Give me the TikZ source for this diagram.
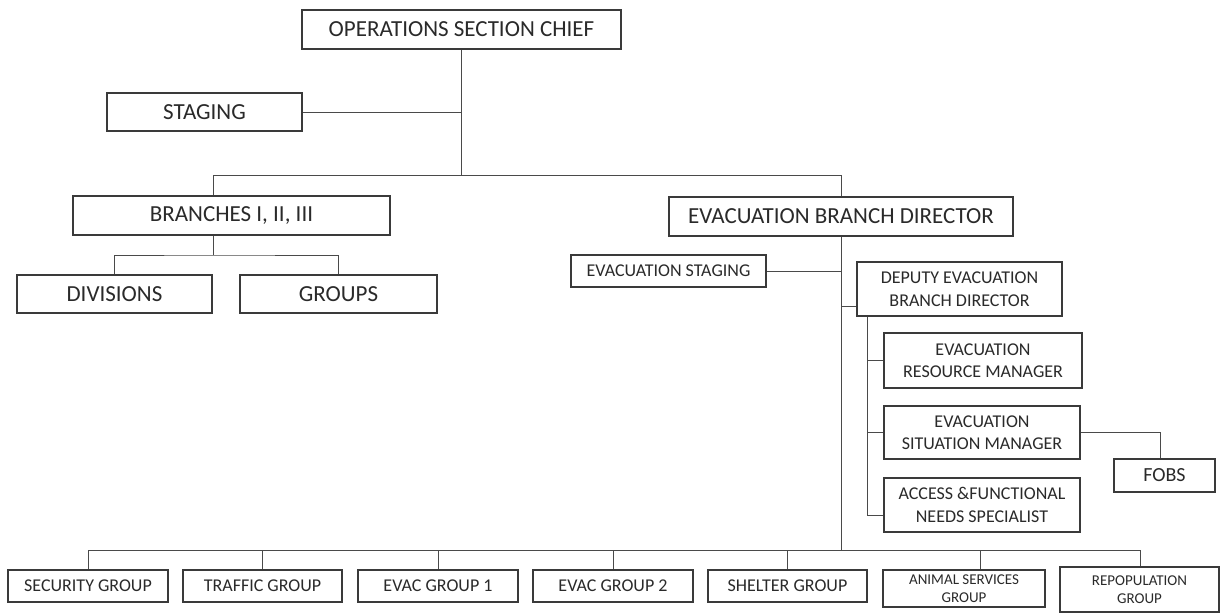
\documentclass[tikz,border=0pt]{standalone}
\usepackage{fontspec}
\setmainfont{Carlito}
\usetikzlibrary{calc}
\definecolor{boxc}{HTML}{3A3A3A}
\definecolor{linec}{HTML}{4A4A4A}
\definecolor{txtc}{HTML}{2A2A2A}
\begin{document}
\begin{tikzpicture}[x=1pt,y=-1pt,
  box/.style={draw=boxc, line width=1.1pt, fill=white, inner sep=0pt,
    align=center, text=txtc, font=\fontsize{18}{22.5}\selectfont},
  big/.style={font=\fontsize{23}{27}\selectfont},
  small/.style={font=\fontsize{15}{17.5}\selectfont},
  wh/.style 2 args={minimum width=#1pt, minimum height=#2pt},
  link/.style={draw=linec, line width=1pt}]
\useasboundingbox (0,0) rectangle (1222,613);

% top of the command structure
\node[box,big,wh={319}{39}] (osc) at (461.5,29.5) {OPERATIONS SECTION CHIEF};
\node[box,big,wh={195}{38}] (staging) at (204.5,112) {STAGING};
\node[box,big,wh={317}{39}] (branches) at (231.5,215.5) {BRANCHES I, II, III};
\node[box,big,wh={344}{39}] (ebd) at (841,216.5) {EVACUATION BRANCH DIRECTOR};
\node[box,big,wh={195}{38}] (divisions) at (114.5,294) {DIVISIONS};
\node[box,big,wh={197}{38}] (groups) at (338.5,294) {GROUPS};

% evacuation branch staff
\node[box,wh={195}{32}] (evstaging) at (668.5,271) {EVACUATION STAGING};
\node[box,wh={205}{54}] (deputy) at (959.5,289) {DEPUTY EVACUATION\\BRANCH DIRECTOR};
\node[box,wh={198}{55}] (erm) at (983,360.5) {EVACUATION\\RESOURCE MANAGER};
\node[box,wh={196}{53}] (esm) at (982,432.5) {EVACUATION\\SITUATION MANAGER};
\node[box,wh={196}{54}] (afns) at (982,505) {ACCESS \&FUNCTIONAL\\NEEDS SPECIALIST};
\node[box,wh={101}{33},font=\fontsize{20}{24}\selectfont] (fobs) at (1164.5,475.5) {FOBS};

% groups under the evacuation branch
\node[box,wh={160}{32}] (security) at (88,586) {SECURITY GROUP};
\node[box,wh={159}{32}] (traffic) at (262.5,586) {TRAFFIC GROUP};
\node[box,wh={160}{32}] (evac1) at (438,586) {EVAC GROUP 1};
\node[box,wh={160}{32}] (evac2) at (613,586) {EVAC GROUP 2};
\node[box,wh={159}{32}] (shelter) at (787.5,586) {SHELTER GROUP};
\node[box,small,wh={162}{37}] (animal) at (964,588.5) {ANIMAL SERVICES\\GROUP};
\node[box,small,wh={159}{45}] (repop) at (1139.5,589.5) {REPOPULATION\\GROUP};

% junction points
\coordinate (hub) at (461.5,175);
\coordinate (bJ) at (213,175);
\coordinate (eJ) at (841,175);
\coordinate (brJ) at (213,255);
\coordinate (dJ) at (841,306);
\coordinate (busL) at (88,550);
\coordinate (busR) at (1140,550);
\coordinate (anJ) at (980,550);
\path (deputy.south west) ++(11,0) coordinate (inTop);

% chief to staging and branches
\draw[link] (osc.south) -- (hub);
\draw[link] (staging.east) -- (staging.east -| osc.south);
\draw[link] (bJ) -- (eJ);
\draw[link] (bJ) -- (bJ |- branches.north);
\draw[link] (eJ) -- (ebd.north);

% branches to divisions and groups
\draw[link] (brJ |- branches.south) -- (brJ);
\draw[link] (divisions.north) |- (brJ) -| (groups.north);

% evacuation branch trunk
\draw[link] (ebd.south) -- (ebd.south |- busL);
\draw[link] (evstaging.east) -- (evstaging.east -| ebd.south);
\draw[link] (dJ) -- (dJ -| deputy.west);

% deputy staff
\draw[link] (inTop) |- ([yshift=-10pt]afns.west);
\draw[link] (erm.west -| inTop) -- (erm.west);
\draw[link] (esm.west -| inTop) -- (esm.west);
\draw[link] (esm.east) -| ([xshift=-4.5pt]fobs.north);

% bus to the groups
\draw[link] (busL) -- (busR);
\draw[link] (busL) -- (security.north);
\draw[link] (traffic.north |- busL) -- (traffic.north);
\draw[link] (evac1.north |- busL) -- (evac1.north);
\draw[link] (evac2.north |- busL) -- (evac2.north);
\draw[link] (shelter.north |- busL) -- (shelter.north);
\draw[link] (anJ) -- (anJ |- animal.north);
\draw[link] (busR) -- (busR |- repop.north);
\end{tikzpicture}
\end{document}
